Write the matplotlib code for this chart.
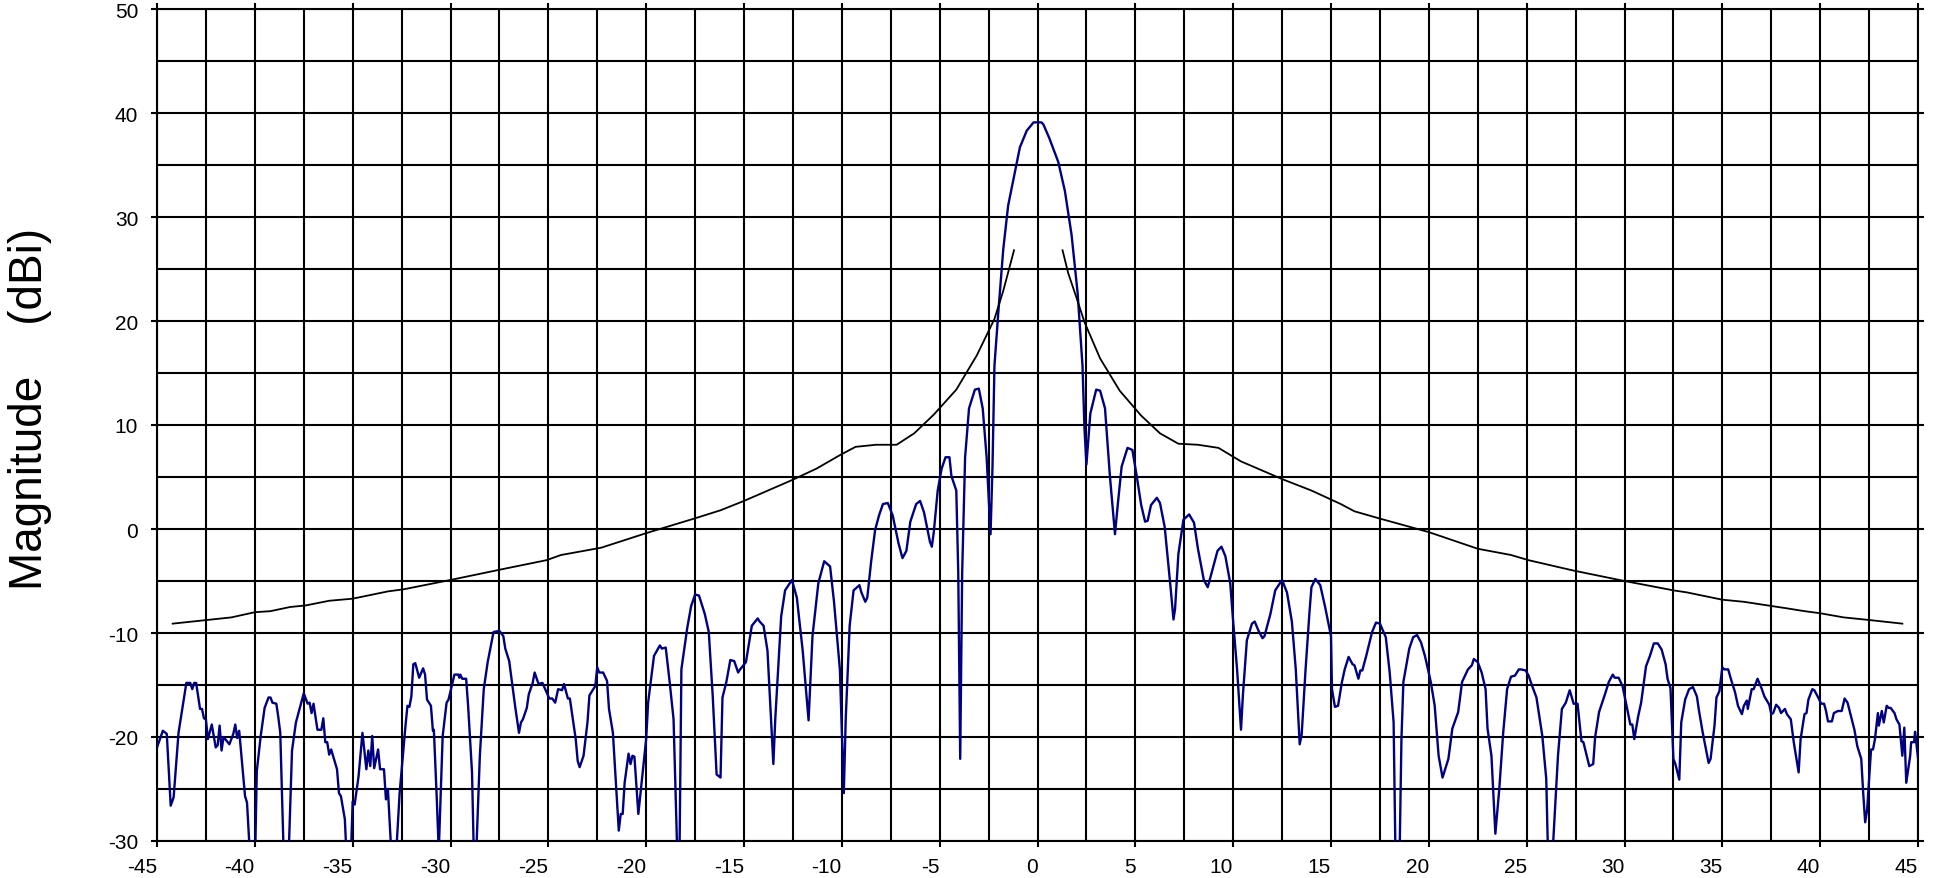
import matplotlib
matplotlib.use("Agg")
import matplotlib.pyplot as plt
import numpy as np
from matplotlib.ticker import MultipleLocator

plt.rcParams['font.family'] = ['Liberation Sans', 'DejaVu Sans']
plt.rcParams['axes.unicode_minus'] = False

# measured antenna pattern (deg, dBi)
angle = [-45.0, -44.7, -44.5, -44.3, -44.15, -43.9, -43.5, -43.3, -43.2, -43.1, -43.0, -42.8, -42.7, -42.6,
         -42.5, -42.4, -42.2, -42.0, -41.9, -41.8, -41.7, -41.6, -41.3, -41.1, -41.0, -40.9, -40.8, -40.7,
         -40.5, -40.4, -40.2, -40.0, -39.9, -39.7, -39.5, -39.3, -39.2, -39.1, -38.9, -38.8, -38.7, -38.5,
         -38.3, -38.1, -37.9, -37.5, -37.3, -37.2, -37.1, -37.0, -36.8, -36.6, -36.5, -36.4, -36.3, -36.2,
         -36.1, -35.8, -35.7, -35.6, -35.4, -35.3, -35.1, -35.0, -34.9, -34.7, -34.5, -34.3, -34.2, -34.1,
         -34.0, -33.9, -33.7, -33.6, -33.4, -33.3, -33.2, -33.0, -32.8, -32.6, -32.3, -32.2, -32.1, -32.0,
         -31.9, -31.8, -31.6, -31.4, -31.3, -31.2, -31.0, -30.9, -30.85, -30.7, -30.6, -30.4, -30.2, -30.1,
         -29.8,
         -29.6, -29.55, -29.5, -29.4, -29.2, -29.1, -28.9, -28.8, -28.7, -28.5, -28.3, -28.1, -27.9, -27.8,
         -27.5, -27.3, -27.2, -27.0, -26.7, -26.5, -26.4, -26.3, -26.1, -26.0, -25.8, -25.7, -25.5, -25.3,
         -24.95, -24.8, -24.65, -24.5, -24.3, -24.2, -24.0, -23.9, -23.6, -23.5, -23.4, -23.2, -23.0, -22.9,
         -22.6, -22.5, -22.4, -22.2, -22.0, -21.9, -21.7, -21.4, -21.3, -21.2, -21.1, -20.9, -20.8, -20.7,
         -20.6, -20.4, -20.3, -20.0, -19.9, -19.6, -19.3, -19.2, -19.0, -18.8, -18.6, -18.4, -18.3, -18.2,
         -17.9, -17.7, -17.5, -17.3, -17.0, -16.8, -16.6, -16.4, -16.2, -16.1, -15.9, -15.7, -15.5, -15.3,
         -15.2, -14.9,
         -14.6, -14.3, -14.2, -14.0, -13.8, -13.5, -13.4, -13.1, -12.9, -12.55, -12.3, -12.0, -11.7, -11.5,
         -11.2, -10.9, -10.6, -10.4, -10.1, -9.9, -9.8, -9.6, -9.4, -9.1, -9.0, -8.8, -8.7, -8.5, -8.3,
         -8.1, -7.9, -7.65, -7.4, -7.1, -6.9, -6.7, -6.5, -6.2, -6.0, -5.8, -5.5, -5.4, -5.3, -5.1, -4.9,
         -4.7, -4.5, -4.4, -4.15, -4.05, -3.95, -3.85, -3.7, -3.5, -3.2, -3.0, -2.8, -2.6, -2.4, -2.3,
         -2.2, -2.0, -1.75, -1.5, -1.2, -0.9, -0.55, -0.2, 0.2,
         0.3, 0.6, 1.06, 1.4, 1.74, 2.05, 2.3, 2.4, 2.5, 2.7, 3.0, 3.2, 3.45, 3.7, 3.96, 4.1, 4.3, 4.6,
         4.85, 5.07, 5.3, 5.5, 5.63, 5.8, 6.1, 6.26, 6.5, 6.8, 6.95, 7.03, 7.2, 7.46, 7.75, 8.0, 8.2, 8.5,
         8.7, 9.0, 9.2, 9.4, 9.6, 9.85, 10.0, 10.2, 10.4, 10.5, 10.7, 10.96, 11.1, 11.3, 11.5, 11.6, 11.9,
         12.15, 12.5, 12.75, 13.0, 13.2, 13.4, 13.5, 13.7, 13.9, 14.0, 14.2, 14.45, 14.7, 15.0,
         15.05, 15.2, 15.36, 15.56, 15.7, 15.9, 16.1, 16.2, 16.4, 16.5, 16.6, 16.8, 17.1, 17.3, 17.5,
         17.8, 18.0, 18.2, 18.3, 18.5, 18.6, 18.7, 19.0, 19.2, 19.4, 19.6, 19.8, 20.1, 20.3, 20.5, 20.7,
         21.0, 21.2, 21.5, 21.7, 22.0, 22.2, 22.3, 22.5, 22.7, 22.9, 23.0, 23.2, 23.4, 23.6, 23.8, 24.0,
         24.2, 24.4, 24.6, 24.7, 24.95, 25.1, 25.3, 25.5, 25.8, 26.0, 26.1, 26.3, 26.6, 26.8, 27.0, 27.2,
         27.4, 27.6, 27.8, 27.9, 28.2, 28.4, 28.5, 28.7, 29.0, 29.2, 29.4, 29.5, 29.7, 29.9,
         30.3, 30.4, 30.5, 30.7, 30.85, 31.1, 31.3, 31.5, 31.7, 31.9, 32.1, 32.2, 32.35, 32.5, 32.6,
         32.8, 32.9, 33.1, 33.3, 33.5, 33.7, 33.8, 34.0, 34.3, 34.4, 34.6, 34.7, 34.85, 35.0, 35.1, 35.3,
         35.45, 35.65, 35.8, 36.0, 36.1, 36.25, 36.3, 36.5, 36.6, 36.8, 37.0, 37.15, 37.4, 37.5, 37.6,
         37.75, 37.9, 38.0, 38.2, 38.3, 38.5, 38.65, 38.9, 39.0, 39.2, 39.3, 39.4, 39.6, 39.7, 39.9,
         40.05, 40.2, 40.3, 40.4, 40.6, 40.7, 40.9, 41.1, 41.25, 41.4, 41.6, 41.75, 41.9, 42.1, 42.2,
         42.3, 42.4, 42.6, 42.7, 42.8, 42.95, 43.0, 43.15, 43.25, 43.4, 43.5, 43.6, 43.8, 43.9, 44.05,
         44.2, 44.3, 44.4, 44.6, 44.65, 44.8, 44.85, 45.0]

magnitude = [-21.0, -19.4, -19.7, -26.6, -25.8, -19.6, -14.8, -14.8, -15.4, -14.8, -14.8, -17.3, -17.3, -18.2,
             -18.3, -20.2, -18.8, -21.0, -20.8, -18.9, -21.3, -20.0, -20.7, -19.7, -18.8, -20.1, -19.4, -21.5,
             -25.7, -26.3, -33.0, -33.0, -23.3, -19.9, -17.2, -16.2, -16.2, -16.7, -16.8, -18.1, -19.6, -33.0,
             -33.0, -21.3, -18.6, -15.8, -16.8, -16.7, -17.7, -16.8, -19.3, -19.3, -18.2, -20.5, -20.5, -21.7,
             -21.2, -23.1, -25.4, -25.7, -27.9, -32.0, -32.0, -26.2, -26.5, -23.8, -19.6, -23.1, -21.3, -22.8,
             -19.9, -23.0, -21.2, -23.1, -23.1, -26.0, -25.0, -32.0, -32.0, -25.4, -18.9, -17.0, -17.1, -16.1,
             -13.0, -12.9, -14.3, -13.4, -14.0, -16.4, -17.0, -19.4, -19.3, -26.0, -31.0, -19.9, -16.7, -16.4,
             -14.0,
             -14.0, -14.3, -14.0, -14.4, -14.4, -17.0, -23.4, -32.0, -32.0, -21.8, -15.4, -12.8, -10.9, -9.9,
             -9.8, -10.3, -11.5, -12.7, -17.0, -19.6, -18.6, -18.3, -17.2, -15.9, -14.8, -13.8, -14.9, -14.8,
             -16.3, -16.3, -16.7, -15.4, -15.5, -14.9, -16.3, -16.3, -20.2, -22.3, -22.9, -21.8, -18.6, -16.0,
             -15.1, -13.3, -13.8, -13.8, -14.6, -17.3, -19.6, -29.0, -27.4, -27.4, -24.4, -21.6, -22.6, -21.8,
             -21.9, -27.4, -25.6, -20.2, -16.7, -12.2, -11.2, -11.5, -11.4, -14.7, -18.3, -32.0, -32.0, -13.5,
             -9.5, -7.4, -6.3, -6.4, -8.2, -9.9, -16.0, -23.6, -23.9, -16.2, -14.7, -12.6, -12.7, -13.8,
             -13.5, -12.8,
             -9.3, -8.6, -8.9, -9.3, -11.7, -22.6, -18.2, -8.4, -5.9, -4.9, -6.6, -11.7, -18.4, -10.3,
             -5.2, -3.1, -3.6, -7.0, -13.5, -25.4, -18.2, -9.3, -5.9, -5.4, -6.1, -7.0, -6.6, -3.1, -0.1,
             1.3, 2.4, 2.5, 1.3, -1.4, -2.8, -2.1, 0.7, 2.4, 2.7, 1.6, -1.2, -1.7, -0.3, 3.7, 5.8,
             6.9, 6.9, 5.1, 3.7, -4.2, -22.1, -4.2, 6.9, 11.6, 13.4, 13.5, 11.6, 6.9, -0.5, 6.0,
             15.7, 20.9, 26.9, 31.1, 33.9, 36.7, 38.3, 39.1, 39.1,
             38.9, 37.6, 35.3, 32.5, 28.3, 22.7, 15.7, 9.7, 6.2, 11.1, 13.4, 13.3, 11.6, 5.1, -0.5, 2.3, 6.0, 7.8,
             7.6, 5.1, 2.3, 0.7, 0.8, 2.3, 3.0, 2.5, 0.2, -5.6, -8.7, -7.7, -2.4, 0.9, 1.4, 0.6, -1.9, -4.9,
             -5.6, -3.5, -2.1, -1.7, -2.6, -5.2, -8.9, -13.5, -19.3, -15.9, -10.7, -9.1, -8.9, -9.8, -10.5, -10.3, -8.2,
             -5.9, -4.9, -6.1, -8.9, -13.5, -20.7, -19.8, -13.5, -8.0, -5.6, -4.8, -5.4, -7.5, -10.3,
             -15.4, -17.1, -17.0, -14.7, -13.5, -12.3, -13.0, -13.1, -14.4, -13.6, -13.6, -12.2, -9.9, -9.0, -9.1,
             -10.4, -13.8, -18.6, -32.0, -32.0, -20.2, -14.7, -11.5, -10.4, -10.2, -10.9, -12.2, -14.7, -17.0, -21.8, -23.9,
             -22.1, -19.2, -17.6, -14.7, -13.5, -13.1, -12.5, -12.8, -13.8, -15.4, -19.2, -21.8, -29.3, -25.0, -19.6, -15.4,
             -14.2, -14.1, -13.5, -13.5, -13.6, -14.1, -15.2, -16.2, -19.9, -24.0, -32.0, -32.0, -21.8, -17.3, -16.7, -15.5,
             -16.8, -16.8, -20.4, -20.5, -22.8, -22.6, -20.0, -17.6, -15.9, -14.7, -14.0, -14.3, -14.3, -15.1,
             -18.8, -18.8, -20.2, -18.0, -16.7, -13.2, -12.2, -11.0, -11.0, -11.6, -13.0, -14.4, -15.3, -22.1, -22.6,
             -24.1, -18.6, -16.4, -15.4, -15.2, -16.1, -17.4, -19.6, -22.5, -22.1, -18.9, -16.2, -15.6, -13.3, -13.5, -13.5,
             -14.5, -15.7, -17.0, -17.8, -17.0, -16.5, -17.3, -15.4, -15.4, -14.4, -15.3, -16.1, -16.9, -17.8, -17.7,
             -16.9, -17.2, -17.7, -17.3, -17.8, -18.3, -20.5, -23.4, -20.2, -17.8, -17.7, -16.4, -15.4, -15.5, -16.2,
             -16.8, -16.8, -17.5, -18.5, -18.5, -17.7, -17.5, -17.5, -16.3, -16.7, -18.2, -19.3, -20.9, -22.1, -25.4,
             -28.2, -27.0, -21.2, -21.2, -20.2, -17.7, -18.9, -17.5, -18.6, -17.0, -17.2, -17.2, -17.7, -18.3, -18.8,
             -21.8, -19.1, -24.4, -21.8, -20.5, -20.5, -19.5, -22.0]

# specification envelope, two branches
env_left_x = [-44.2, -42.45, -41.2, -40.0, -39.2, -38.2, -37.4, -36.2, -35.0, -33.2, -32.4, -30.0, -27.45,
              -25.1, -24.35, -22.3, -20.0, -17.55, -16.2, -15.0, -12.55, -11.3, -10.1, -9.3, -8.25, -7.2,
              -6.3, -5.3, -4.15, -3.1, -2.2, -1.75, -1.2]
env_left_y = [-9.1, -8.75, -8.5, -8.0, -7.9, -7.5, -7.35, -6.9, -6.7, -6.0, -5.8, -4.9, -3.9,
              -3.0, -2.5, -1.8, -0.4, 1.0, 1.8, 2.7, 4.7, 5.8, 7.1, 7.9, 8.1, 8.1,
              9.2, 11.0, 13.4, 16.7, 20.2, 22.9, 26.8]
env_right_x = [1.28, 1.57, 2.0, 2.4, 3.2, 4.2, 5.3, 6.26, 7.2, 8.2, 9.25, 10.4, 12.5, 14.0, 15.5, 16.2,
               17.5, 20.0, 22.5, 24.2, 25.1, 27.4, 30.0, 32.5, 33.2, 35.0, 36.1, 37.5, 38.2, 39.2, 40.0,
               41.2, 42.5, 44.2]
env_right_y = [26.8, 24.6, 22.2, 19.9, 16.4, 13.3, 10.9, 9.2, 8.2, 8.1, 7.8, 6.5, 4.8, 3.7, 2.4, 1.7,
               1.0, -0.3, -1.9, -2.5, -3.0, -4.0, -5.0, -5.9, -6.1, -6.8, -7.0, -7.4, -7.6, -7.9, -8.1,
               -8.5, -8.75, -9.1]

fig = plt.figure(figsize=(19.42, 8.79), dpi=100)
ax = fig.add_axes([157 / 1942, 37 / 879, 1761 / 1942, 832 / 879])

ax.plot(angle, magnitude, color="#000080", lw=1.7, zorder=3)
ax.plot(env_left_x, env_left_y, color="black", lw=1.3, zorder=3)
ax.plot(env_right_x, env_right_y, color="black", lw=1.3, zorder=3)

ax.set_xlim(-45, 45)
ax.set_ylim(-30, 50)
ax.xaxis.set_major_locator(MultipleLocator(5))
ax.xaxis.set_minor_locator(MultipleLocator(2.5))
ax.yaxis.set_major_locator(MultipleLocator(10))
ax.yaxis.set_minor_locator(MultipleLocator(5))
ax.grid(True, which="both", color="black", lw=1.5, zorder=1)
ax.set_axisbelow(True)
for s in ax.spines.values():
    s.set_linewidth(1.5)
    s.set_color("black")

ax.tick_params(which="major", direction="out", length=4.5, width=1.5, top=True, right=True,
               labelsize=15, pad=9)
ax.tick_params(which="minor", length=0)
plt.setp(ax.get_xticklabels(), ha="right")
ax.tick_params(axis="x", pad=7)

ax.set_ylabel("Magnitude    (dBi)", fontsize=33)
ax.yaxis.set_label_coords(-0.0596, 0.52)

fig.savefig("out.png", dpi=100)
